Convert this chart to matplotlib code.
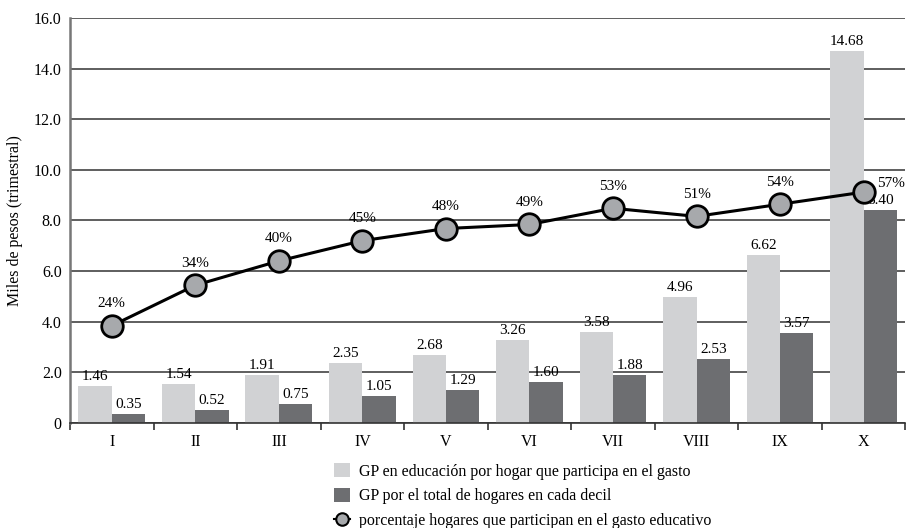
import matplotlib
matplotlib.use("Agg")
import matplotlib.pyplot as plt
from matplotlib.lines import Line2D
from matplotlib.patches import Patch
import numpy as np

deciles = ["I", "II", "III", "IV", "V", "VI", "VII", "VIII", "IX", "X"]
gp_participa = [1.46, 1.54, 1.91, 2.35, 2.68, 3.26, 3.58, 4.96, 6.62, 14.68]
gp_total = [0.35, 0.52, 0.75, 1.05, 1.29, 1.60, 1.88, 2.53, 3.57, 8.40]
pct_hogares = [24, 34, 40, 45, 48, 49, 53, 51, 54, 57]
yticks = [0, 2, 4, 6, 8, 10, 12, 14, 16]
ytick_labels = ["0", "2.0", "4.0", "6.0", "8.0", "10.0", "12.0", "14.0", "16.0"]

light = "#d1d2d4"
dark = "#6d6e71"
marker_fill = "#a7a9ac"

plt.rcParams["font.family"] = ["Liberation Serif", "DejaVu Serif"]

fig = plt.figure(figsize=(9.06, 5.28), dpi=100)
ax = fig.add_axes([0.0773, 0.199, 0.922, 0.767])

x = np.arange(len(deciles))
w = 0.4
b1 = ax.bar(x - w / 2, gp_participa, w, color=light, zorder=2)
b2 = ax.bar(x + w / 2, gp_total, w, color=dark, zorder=2)

for rect, v in zip(b1, gp_participa):
    ax.text(rect.get_x() + rect.get_width() / 2, v + 0.12, f"{v:.2f}",
            ha="center", va="bottom", fontsize=11, zorder=5)
for rect, v in zip(b2, gp_total):
    ax.text(rect.get_x() + rect.get_width() / 2, v + 0.12, f"{v:.2f}",
            ha="center", va="bottom", fontsize=11, zorder=5)

ax.set_xlim(-0.5, len(deciles) - 0.5)
ax.set_ylim(0, 16)
ax.set_yticks(yticks)
ax.set_yticklabels(ytick_labels, fontsize=11.5)
ax.set_xticks(x)
ax.set_xticklabels(deciles, fontsize=11.5)
ax.set_xticks(np.arange(-0.5, len(deciles)), minor=True)
ax.tick_params(axis="x", which="major", length=0, pad=8)
ax.tick_params(axis="x", which="minor", length=5, width=1.2, color="#333333")
ax.tick_params(axis="y", length=0, pad=6)
ax.set_ylabel("Miles de pesos (trimestral)", fontsize=11.5, labelpad=8)

ax.grid(axis="y", color="#333333", linewidth=1.1, zorder=0)
ax.set_axisbelow(True)
for s in ["top", "right"]:
    ax.spines[s].set_visible(False)
ax.spines["left"].set_color("#777777")
ax.spines["left"].set_linewidth(1.8)
ax.spines["bottom"].set_color("#333333")
ax.spines["bottom"].set_linewidth(1.2)

# percentage line on a hidden 0-100 scale
ax2 = ax.twinx()
ax2.set_ylim(0, 100)
ax2.axis("off")
ax2.plot(x, pct_hogares, color="black", linewidth=2.2, marker="o",
         markersize=15.5, markerfacecolor=marker_fill, markeredgecolor="black",
         markeredgewidth=2.0, zorder=4, clip_on=False)
for i, p in enumerate(pct_hogares):
    if i == len(pct_hogares) - 1:
        ax2.annotate(f"{p}%", (x[i], p), xytext=(20, 6), textcoords="offset points",
                     ha="center", va="center", fontsize=11)
    else:
        ax2.annotate(f"{p}%", (x[i], p), xytext=(0, 16), textcoords="offset points",
                     ha="center", va="center", fontsize=11)

handles = [
    Patch(facecolor=light, edgecolor="none"),
    Patch(facecolor=dark, edgecolor="none"),
    Line2D([0], [0], color="black", linewidth=1.5, marker="o", markersize=9,
           markerfacecolor=marker_fill, markeredgecolor="black", markeredgewidth=1.5),
]
labels = [
    "GP en educación por hogar que participa en el gasto",
    "GP por el total de hogares en cada decil",
    "porcentaje hogares que participan en el gasto educativo",
]
fig.legend(handles, labels, loc="upper left", bbox_to_anchor=(0.362, 0.135),
           frameon=False, fontsize=11.5, handlelength=1.0, handleheight=1.0,
           handletextpad=0.55, labelspacing=0.5, borderaxespad=0)

fig.savefig("out.png", dpi=100)
